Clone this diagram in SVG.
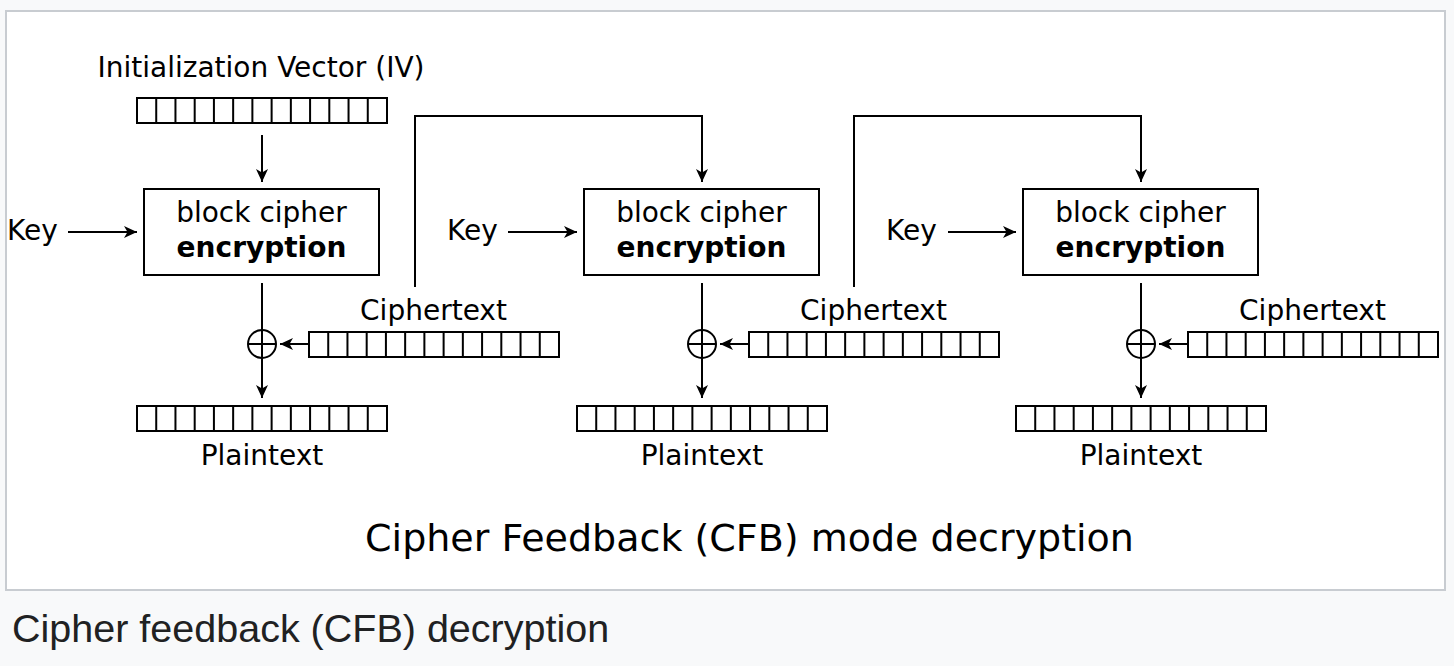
<svg xmlns="http://www.w3.org/2000/svg" xmlns:xlink="http://www.w3.org/1999/xlink" width="1454" height="666" viewBox="0 0 1454 666">
  <style>
    .t { font-family: "DejaVu Sans", "Noto Sans", sans-serif; font-size: 28px; fill: #000; }
    .m { text-anchor: middle; }
    .b { font-weight: bold; }
    .ln { fill: none; stroke: #000; stroke-width: 2; }
    .arr { fill: none; stroke: #000; stroke-width: 2; marker-end: url(#ah); }
    .box { fill: #fff; stroke: #000; stroke-width: 2; }
    .title { font-family: "DejaVu Sans", "Noto Sans", sans-serif; font-size: 38px; fill: #000; text-anchor: middle; }
    .cap { font-family: "Liberation Sans", Arial, sans-serif; font-size: 39.5px; fill: #202122; }
  </style>
  <defs>
    <marker id="ah" viewBox="-14 -7 15 14" refX="0" refY="0" markerWidth="15" markerHeight="14" markerUnits="userSpaceOnUse" orient="auto">
      <path d="M0,0 L-13,-6 L-9.5,0 L-13,6 Z" fill="#000"/>
    </marker>
    <g id="reg">
      <rect x="0" y="0" width="250" height="25" fill="#fff" stroke="#000" stroke-width="2"/>
      <path d="M19.23,0V25 M38.46,0V25 M57.69,0V25 M76.92,0V25 M96.15,0V25 M115.38,0V25 M134.62,0V25 M153.85,0V25 M173.08,0V25 M192.31,0V25 M211.54,0V25 M230.77,0V25" stroke="#000" stroke-width="2" fill="none"/>
    </g>
  </defs>

  <rect x="0" y="0" width="1454" height="666" fill="#f8f9fa"/>
  <rect id="frame" x="6" y="11" width="1439" height="579" fill="#fff" stroke="#c8ccd1" stroke-width="2"/>

  <g id="connectors">
    <path class="arr" d="M262,135 V182"/>
    <path class="arr" d="M68,232 H137"/>
    <path class="arr" d="M508,232 H577"/>
    <path class="arr" d="M948,232 H1016"/>
    <path class="arr" d="M262,283 V398"/>
    <path class="arr" d="M702,283 V398"/>
    <path class="arr" d="M1141,283 V398"/>
    <path class="arr" d="M309,344 H280"/>
    <path class="arr" d="M749,344 H720"/>
    <path class="arr" d="M1188,344 H1159"/>
    <path class="arr" d="M415,287 V116 H702 V182"/>
    <path class="arr" d="M854,287 V116 H1141 V182"/>
  </g>

  <g id="iv">
    <text class="t m" x="261" y="77">Initialization Vector (IV)</text>
    <use xlink:href="#reg" x="137" y="98"/>
  </g>

  <g id="key1"><text class="t" x="7" y="240">Key</text></g>
  <g id="key2"><text class="t" x="447" y="240">Key</text></g>
  <g id="key3"><text class="t" x="886" y="240">Key</text></g>

  <g id="enc1">
    <rect class="box" x="144" y="189" width="235" height="86"/>
    <text class="t m" x="261.5" y="222">block cipher</text>
    <text class="t m b" x="261.5" y="257">encryption</text>
  </g>
  <g id="enc2">
    <rect class="box" x="584" y="189" width="235" height="86"/>
    <text class="t m" x="701.5" y="222">block cipher</text>
    <text class="t m b" x="701.5" y="257">encryption</text>
  </g>
  <g id="enc3">
    <rect class="box" x="1023" y="189" width="235" height="86"/>
    <text class="t m" x="1140.5" y="222">block cipher</text>
    <text class="t m b" x="1140.5" y="257">encryption</text>
  </g>

  <g id="xor1"><circle class="ln" cx="262" cy="344" r="14"/><path class="ln" d="M248,344 H276 M262,330 V358"/></g>
  <g id="xor2"><circle class="ln" cx="702" cy="344" r="14"/><path class="ln" d="M688,344 H716 M702,330 V358"/></g>
  <g id="xor3"><circle class="ln" cx="1141" cy="344" r="14"/><path class="ln" d="M1127,344 H1155 M1141,330 V358"/></g>

  <g id="ct1">
    <text class="t m" x="433.5" y="320">Ciphertext</text>
    <use xlink:href="#reg" x="309" y="332"/>
  </g>
  <g id="ct2">
    <text class="t m" x="873.5" y="320">Ciphertext</text>
    <use xlink:href="#reg" x="749" y="332"/>
  </g>
  <g id="ct3">
    <text class="t m" x="1312.5" y="320">Ciphertext</text>
    <use xlink:href="#reg" x="1188" y="332"/>
  </g>

  <g id="pt1">
    <use xlink:href="#reg" x="137" y="406"/>
    <text class="t m" x="262" y="465">Plaintext</text>
  </g>
  <g id="pt2">
    <use xlink:href="#reg" x="577" y="406"/>
    <text class="t m" x="702" y="465">Plaintext</text>
  </g>
  <g id="pt3">
    <use xlink:href="#reg" x="1016" y="406"/>
    <text class="t m" x="1141" y="465">Plaintext</text>
  </g>

  <g id="title"><text class="title" x="749.5" y="551">Cipher Feedback (CFB) mode decryption</text></g>
  <g id="caption"><text class="cap" x="12" y="642">Cipher feedback (CFB) decryption</text></g>
</svg>
